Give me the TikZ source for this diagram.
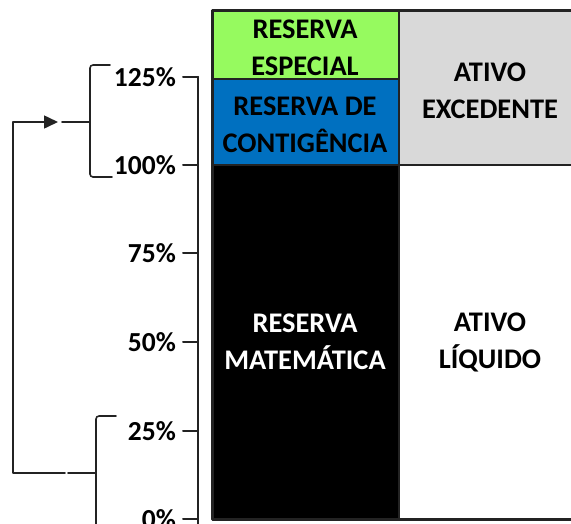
\documentclass[tikz,border=0pt]{standalone}
\usepackage{fontspec}
\setmainfont{Carlito}
\usetikzlibrary{positioning,arrows.meta}
\definecolor{verdeRes}{RGB}{150,250,95}
\definecolor{azulRes}{RGB}{0,112,192}
\definecolor{cinzaAt}{RGB}{217,217,217}
\definecolor{traco}{RGB}{35,35,35}
\tikzset{
  celula/.style={draw=traco, line width=2pt, anchor=north west, inner sep=0pt, minimum height=#1},
  rotulo/.style={font=\fontsize{28.4}{37}\selectfont\bfseries, align=center, inner sep=0pt},
  marca/.style={font=\fontsize{27.5}{32}\selectfont\bfseries, anchor=east, inner sep=0pt},
  chave/.style={draw=traco, line width=1.6pt, rounded corners=3pt},
}
\begin{document}
\begin{tikzpicture}[x=1pt, y=-1pt, line join=round, line cap=round, >={Triangle[length=14pt,width=13pt]}]
	\useasboundingbox (0,0) rectangle (571,523);
	% coluna das reservas
	\node[celula=68pt, fill=verdeRes, minimum width=186pt] (especial) at (212,10) {};
	\node[rotulo] (txtEspecial) at (305,48) {RESERVA\\ESPECIAL};
	\node[celula=86pt, fill=azulRes, minimum width=186pt] (contingencia) at (212,78) {};
	\node[rotulo] (txtContingencia) at (305,125) {RESERVA DE\\CONTIGÊNCIA};
	\node[celula=355pt, fill=black, minimum width=186pt] (matematica) at (212,164) {};
	\node[rotulo, text=white] (txtMatematica) at (305,342) {RESERVA\\MATEMÁTICA};
	% coluna dos ativos
	\node[celula=154pt, fill=cinzaAt, minimum width=184pt] (excedente) at (398,10) {};
	\node[rotulo] (txtExcedente) at (490,91) {ATIVO\\EXCEDENTE};
	\node[celula=355pt, fill=white, minimum width=184pt] (liquido) at (398,164) {};
	\node[rotulo] (txtLiquido) at (490,342) {ATIVO\\LÍQUIDO};
	\draw[draw=traco, line width=3pt] (212,10) rectangle (590,519);
	% eixo
	\draw[traco, line width=2.2pt] (198,77)--(198,530);
	\foreach \p/\y in {0/519,25/431,50/342,75/253,100/165,125/77}{
		\draw[traco, line width=2pt] (183,\y)--(198,\y);
		\node[marca] (t\p) at (176,\y) {\p\%};
	}
	% chaves
	\draw[chave] (110,65)--(90,65)--(90,177)--(112,177);
	\draw[chave] (90,122)--(62,122);
	\draw[chave] (116,416)--(96,416)--(96,530);
	\draw[chave] (96,473)--(68,473);
	\coordinate (saida) at (65,473);
	\coordinate (entrada) at (58,122);
	\draw[->, traco, line width=1.6pt] (saida)--++(-52,0)|-(entrada);
\end{tikzpicture}
\end{document}
